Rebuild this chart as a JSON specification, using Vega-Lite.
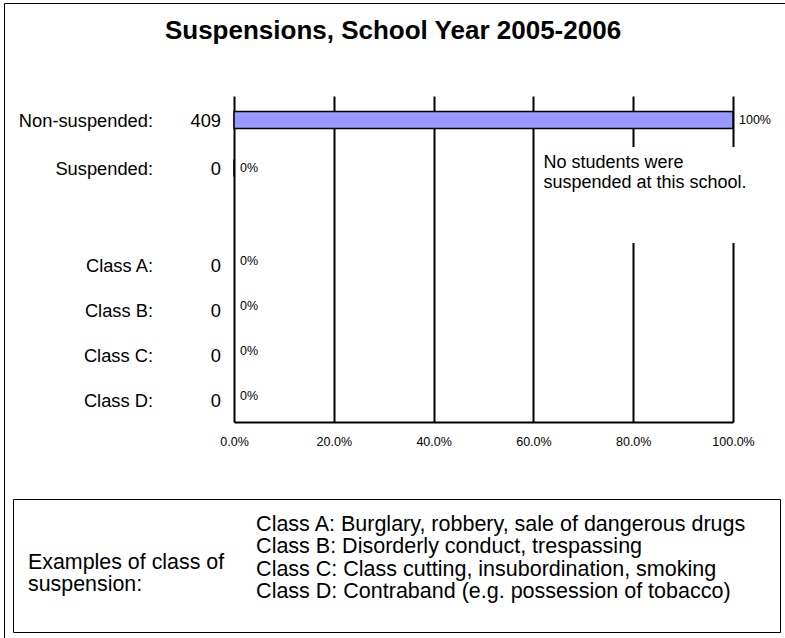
{
  "$schema": "https://vega.github.io/schema/vega-lite/v6.json",
  "width": 791,
  "height": 645,
  "autosize": {"type": "none"},
  "padding": {"left": 4, "top": 3, "right": -10, "bottom": -10},
  "background": "white",
  "config": {
    "view": {"stroke": "black", "strokeWidth": 1},
    "font": "Liberation Sans",
    "text": {"font": "Liberation Sans", "color": "black"}
  },
  "title": {
    "text": "Suspensions, School Year 2005-2006",
    "anchor": "middle",
    "frame": "group",
    "offset": -36.5,
    "baseline": "alphabetic",
    "font": "Liberation Sans",
    "fontSize": 26,
    "fontWeight": "bold",
    "color": "black",
    "dx": -6.5,
    "dy": 25.5
  },
  "layer": [
    {
      "data": {"values": [
        {"label": "Non-suspended:", "count": 409, "pct": 1},
        {"label": "Suspended:", "count": 0, "pct": 0}
      ]},
      "encoding": {
        "y": {"field": "label", "type": "nominal", "sort": null,
              "scale": {"type": "point", "domain": ["Non-suspended:", "Suspended:"], "range": [117, 165], "padding": 0},
              "axis": null}
      },
      "layer": [
        {
          "mark": {"type": "bar", "size": 17, "fill": "#9999FF", "stroke": "black", "strokeWidth": 1.5},
          "encoding": {
            "x": {"field": "pct", "type": "quantitative",
                  "scale": {"domain": [0, 1], "range": [230, 729]},
                  "axis": {"orient": "bottom", "offset": -226, "grid": false,
                           "values": [0, 0.2, 0.4, 0.6, 0.8, 1], "format": ".1%", "title": null,
                           "domain": true, "domainColor": "black", "domainWidth": 2,
                           "ticks": true, "tickSize": -326, "tickWidth": 2, "tickColor": "black",
                           "labelFont": "Liberation Sans", "labelFontSize": 12.5, "labelColor": "black",
                           "labelPadding": 339.6, "labelFlush": false, "labelOverlap": false,
                           "labelBaseline": "top", "zindex": 0}}
          }
        },
        {
          "mark": {"type": "text", "align": "left", "baseline": "middle", "dx": 6, "fontSize": 12.5},
          "encoding": {
            "x": {"field": "pct", "type": "quantitative"},
            "text": {"field": "pct", "type": "quantitative", "format": ".0%"}
          }
        },
        {
          "mark": {"type": "text", "align": "right", "baseline": "middle", "dx": -13, "dy": 2, "fontSize": 18.3},
          "encoding": {
            "x": {"datum": 0, "type": "quantitative"},
            "text": {"field": "count", "type": "quantitative"}
          }
        },
        {
          "mark": {"type": "text", "align": "right", "baseline": "middle", "dx": -81, "dy": 2, "fontSize": 18.3},
          "encoding": {
            "x": {"datum": 0, "type": "quantitative"},
            "text": {"field": "label", "type": "nominal"}
          }
        }
      ]
    },
    {
      "data": {"values": [
        {"cls": "Class A:", "count": 0, "pct": 0, "example": "Class A: Burglary, robbery, sale of dangerous drugs"},
        {"cls": "Class B:", "count": 0, "pct": 0, "example": "Class B: Disorderly conduct, trespassing"},
        {"cls": "Class C:", "count": 0, "pct": 0, "example": "Class C: Class cutting, insubordination, smoking"},
        {"cls": "Class D:", "count": 0, "pct": 0, "example": "Class D: Contraband (e.g. possession of tobacco)"}
      ]},
      "encoding": {
        "y": {"field": "cls", "type": "nominal", "sort": null,
              "scale": {"type": "point", "domain": ["Class A:", "Class B:", "Class C:", "Class D:"], "range": [264, 399], "padding": 0},
              "axis": null}
      },
      "layer": [
        {
          "mark": {"type": "text", "align": "left", "baseline": "middle", "dx": 6, "dy": -6, "fontSize": 12.5},
          "encoding": {
            "x": {"field": "pct", "type": "quantitative"},
            "text": {"field": "pct", "type": "quantitative", "format": ".0%"},
            "color": {"field": "example", "type": "nominal",
                      "scale": {"range": ["black"]},
                      "legend": {"orient": "none", "legendX": 9, "legendY": 496,
                                 "title": ["Examples of class of", "suspension:"],
                                 "titleOrient": "left", "titleFont": "Liberation Sans", "titleFontSize": 21.4,
                                 "titleFontWeight": "normal", "titleColor": "black", "titleLineHeight": 22,
                                 "titleLimit": 400, "titleAnchor": "middle", "titlePadding": 4,
                                 "labelFont": "Liberation Sans", "labelFontSize": 21.5, "labelColor": "black",
                                 "labelLimit": 1000, "labelOffset": 5.6,
                                 "symbolSize": 0, "symbolOpacity": 0, "symbolStrokeWidth": 0,
                                 "rowPadding": -0.6, "padding": 15,
                                 "strokeColor": "black", "fillColor": "white", "cornerRadius": 0,
                                 "encode": {
                                   "symbols": {"update": {"x": {"value": 536}, "y": {"signal": "indexof(datum.value, 'Class D') === 0 ? 35 : 10"}}},
                                   "title": {"update": {"dy": {"value": 8.5}}}
                                 }}}
          }
        },
        {
          "mark": {"type": "text", "align": "right", "baseline": "middle", "dx": -13, "fontSize": 18.3},
          "encoding": {
            "x": {"datum": 0, "type": "quantitative"},
            "text": {"field": "count", "type": "quantitative"}
          }
        },
        {
          "mark": {"type": "text", "align": "right", "baseline": "middle", "dx": -81, "fontSize": 18.3},
          "encoding": {
            "x": {"datum": 0, "type": "quantitative"},
            "text": {"field": "cls", "type": "nominal"}
          }
        }
      ]
    },
    {
      "data": {"values": [{"note": "No students were\nsuspended at this school."}]},
      "encoding": {
        "y": {"datum": "note", "type": "nominal",
              "scale": {"type": "band", "domain": ["note"], "range": [144, 240], "paddingInner": 0, "paddingOuter": 0},
              "axis": null}
      },
      "layer": [
        {
          "mark": {"type": "rect", "fill": "white", "strokeWidth": 0},
          "encoding": {
            "x": {"datum": 0.615, "type": "quantitative"},
            "x2": {"datum": 1.03}
          }
        },
        {
          "mark": {"type": "text", "align": "left", "baseline": "middle", "fontSize": 18, "lineHeight": 20, "lineBreak": "\n", "dy": -32},
          "encoding": {
            "x": {"datum": 0.62, "type": "quantitative"},
            "text": {"field": "note", "type": "nominal"}
          }
        }
      ]
    }
  ],
  "resolve": {"scale": {"y": "independent"}}
}
